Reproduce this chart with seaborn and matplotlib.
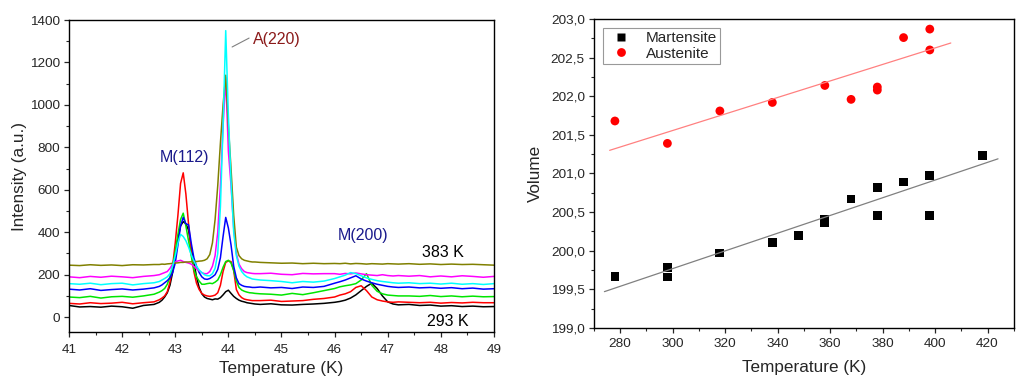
import numpy as np
import pandas as pd
import matplotlib
matplotlib.use("Agg")
import matplotlib.pyplot as plt
from matplotlib.ticker import MultipleLocator, FuncFormatter
import seaborn as sns

# ---------------- data: XRD-like spectra (left panel) ----------------
two_theta = [41.0, 41.2, 41.4, 41.6, 41.8, 42.0, 42.2, 42.4, 42.6,
             42.70, 42.75, 42.80, 42.85, 42.90, 42.95, 43.00, 43.05, 43.10, 43.15,
             43.20, 43.25, 43.30, 43.35, 43.40, 43.45, 43.50, 43.55, 43.60, 43.65,
             43.70, 43.75, 43.80, 43.85, 43.90, 43.95, 44.00, 44.05, 44.10, 44.15,
             44.20, 44.25, 44.30, 44.35, 44.40, 44.45, 44.50,
             44.6, 44.8, 45.0, 45.2, 45.4, 45.6, 45.8,
             46.0, 46.1, 46.2, 46.3, 46.4, 46.5, 46.6, 46.7, 46.8, 46.9, 47.0, 47.1, 47.2,
             47.4, 47.6, 47.8, 48.0, 48.2, 48.4, 48.6, 48.8, 49.0]

int_black = [55, 48, 50, 47, 52, 49, 42, 55, 60,
             70, 80, 95, 115, 150, 210, 290, 370, 430, 450,
             440, 410, 330, 260, 190, 140, 110, 95, 88, 85,
             82, 86, 85, 92, 105, 120, 127, 112, 98, 88,
             80, 75, 72, 68, 66, 64, 62,
             60, 63, 58, 57, 60, 62, 65,
             70, 74, 80, 90, 105, 125, 145, 160, 135, 100, 72, 62, 58,
             60, 55, 57, 52, 54, 50, 52, 49, 50]
int_red = [65, 62, 68, 64, 66, 70, 63, 68, 72,
           82, 90, 100, 120, 165, 240, 350, 480, 630, 680,
           580, 440, 310, 215, 160, 130, 112, 104, 100, 98,
           100, 104, 115, 150, 215, 258, 265, 262, 220, 130,
           105, 92, 85, 82, 80, 78, 78,
           78, 80, 74, 76, 78, 84, 88,
           95, 104, 110, 120, 140, 148, 125, 95, 82, 76, 72, 70, 72,
           70, 68, 70, 66, 69, 67, 70, 68, 68]
int_green = [95, 92, 98, 90, 96, 98, 94, 100, 108,
             118, 125, 135, 155, 190, 240, 310, 390, 460, 490,
             430, 360, 290, 225, 190, 170, 155, 155, 158, 160,
             158, 165, 175, 200, 235, 262, 268, 255, 220, 170,
             140, 128, 122, 118, 115, 114, 112,
             110, 108, 104, 112, 106, 115, 125,
             135, 143, 148, 152, 158, 175, 205, 150, 122, 110, 104, 102, 100,
             100, 98, 102, 97, 100, 96, 99, 96, 97]
int_blue = [132, 128, 134, 126, 130, 133, 128, 132, 138,
            145, 152, 162, 172, 185, 210, 255, 340, 430, 470,
            440, 435, 350, 280, 240, 210, 190, 180, 178, 182,
            190, 200, 225, 280, 380, 470, 420, 340, 240, 185,
            158, 150, 145, 143, 142, 140, 140,
            142, 138, 140, 135, 142, 140, 145,
            160, 167, 175, 185, 195, 180, 170, 162, 155, 150, 145, 142, 140,
            142, 138, 140, 136, 139, 134, 137, 132, 134]
int_cyan = [158, 155, 160, 153, 158, 160, 152, 158, 162,
            168, 175, 182, 190, 205, 240, 290, 350, 390, 380,
            360, 330, 295, 265, 240, 222, 210, 200, 195, 195,
            205, 230, 300, 520, 900, 1350, 950, 640, 400, 290,
            240, 215, 200, 190, 185, 180, 178,
            175, 172, 168, 162, 168, 165, 170,
            182, 190, 198, 210, 205, 195, 185, 178, 172, 168, 165, 162, 160,
            162, 158, 160, 156, 160, 155, 158, 154, 158]
int_magenta = [190, 186, 192, 188, 193, 190, 186, 192, 196,
               200, 205, 210, 215, 230, 250, 260, 265, 268, 262,
               258, 255, 250, 240, 228, 218, 210, 205, 205, 215,
               240, 290, 400, 620, 900, 1130, 780, 620, 420, 300,
               250, 228, 215, 210, 208, 206, 205,
               205, 207, 202, 200, 206, 204, 205,
               205, 202, 206, 204, 208, 204, 200, 198, 196, 200, 196, 194, 196,
               193, 196, 190, 194, 190, 195, 192, 188, 192]
int_olive = [245, 243, 247, 244, 246, 243, 247, 246, 248,
             248, 250, 249, 251, 252, 254, 255, 256, 258, 258,
             260, 260, 261, 262, 262, 264, 265, 268, 275, 295,
             350, 460, 620, 820, 1000, 1140, 900, 700, 480, 330,
             290, 275, 268, 265, 262, 260, 260,
             258, 256, 254, 255, 252, 254, 252,
             253, 252, 254, 251, 253, 252, 250, 252, 251, 250, 252, 251, 250,
             252, 249, 251, 248, 250, 248, 249, 247, 245]

curve_names = ["black", "red", "green", "blue", "magenta", "olive", "cyan"]
curve_values = [int_black, int_red, int_green, int_blue, int_magenta, int_olive, int_cyan]
curve_colors = {"black": "#000000", "red": "#ff0000", "green": "#00e600",
                "blue": "#0000ff", "magenta": "#ff00ff", "olive": "#808000",
                "cyan": "#00ffff"}

# ---------------- data: volume vs temperature (right panel) ----------------
mart_T = [278, 298, 298, 318, 338, 348, 358, 358, 368, 378, 378, 388, 398, 398, 418]
mart_V = [199.67, 199.78, 199.66, 199.97, 200.11, 200.20, 200.41, 200.37,
          200.67, 200.82, 200.46, 200.89, 200.97, 200.46, 201.23]
aust_T = [278, 298, 318, 338, 358, 368, 378, 378, 388, 398, 398]
aust_V = [201.68, 201.39, 201.81, 201.92, 202.14, 201.96, 202.12, 202.08,
          202.76, 202.87, 202.60]
mart_fit_T = [274, 424]
mart_fit_V = [199.47, 201.19]
aust_fit_T = [276, 406]
aust_fit_V = [201.30, 202.69]

# ---------------- style ----------------
sns.set_theme(style="ticks")
plt.rcParams["font.family"] = ["Liberation Sans", "DejaVu Sans"]
plt.rcParams["axes.linewidth"] = 1.0
plt.rcParams["xtick.direction"] = "out"
plt.rcParams["ytick.direction"] = "out"

TICK_FS = 9.7
LABEL_FS = 12.3
ANN_FS = 11.5

fig = plt.figure(figsize=(10.24, 3.89), dpi=100)
fig.patch.set_facecolor("white")
ax1 = fig.add_axes([0.0674, 0.1465, 0.415, 0.802])
ax2 = fig.add_axes([0.580, 0.157, 0.410, 0.794])

# left panel
rows = []
for name, vals in zip(curve_names, curve_values):
    for x, y in zip(two_theta, vals):
        rows.append((name, x, y))
spec = pd.DataFrame(rows, columns=["curve", "x", "y"])
sns.lineplot(data=spec, x="x", y="y", hue="curve", hue_order=curve_names,
             palette=curve_colors, estimator=None, linewidth=1.1,
             legend=False, ax=ax1)
ax1.set_xlim(41, 49)
ax1.set_ylim(-70, 1400)
ax1.xaxis.set_major_locator(MultipleLocator(1))
ax1.xaxis.set_minor_locator(MultipleLocator(0.5))
ax1.yaxis.set_major_locator(MultipleLocator(200))
ax1.yaxis.set_minor_locator(MultipleLocator(100))
ax1.set_xlabel("Temperature (K)", fontsize=LABEL_FS, labelpad=4)
ax1.set_ylabel("Intensity (a.u.)", fontsize=LABEL_FS, labelpad=2)
ax1.tick_params(which="major", length=3.5, width=0.9, labelsize=TICK_FS, pad=3)
ax1.tick_params(axis="x", which="major", pad=5)
ax1.tick_params(which="minor", length=2, width=0.8)
ax1.text(44.47, 1306, "A(220)", color="#8b1a1a", fontsize=ANN_FS, ha="left", va="center")
ax1.plot([44.07, 44.39], [1273, 1315], color="#808080", lw=0.8)
ax1.text(43.17, 754, "M(112)", color="#1a1a8c", fontsize=ANN_FS, ha="center", va="center")
ax1.text(46.54, 383, "M(200)", color="#1a1a8c", fontsize=ANN_FS, ha="center", va="center")
ax1.text(48.03, 305, "383 K", color="black", fontsize=ANN_FS, ha="center", va="center")
ax1.text(48.14, -19, "293 K", color="black", fontsize=ANN_FS, ha="center", va="center")

# right panel
vol = pd.DataFrame({
    "T": mart_T + aust_T,
    "V": mart_V + aust_V,
    "phase": ["Martensite"] * len(mart_T) + ["Austenite"] * len(aust_T),
})
sns.lineplot(x=mart_fit_T, y=mart_fit_V, color="#808080", linewidth=0.9, ax=ax2)
sns.lineplot(x=aust_fit_T, y=aust_fit_V, color="#ff8080", linewidth=0.9, ax=ax2)
sns.scatterplot(data=vol, x="T", y="V", hue="phase", style="phase",
                hue_order=["Martensite", "Austenite"],
                style_order=["Martensite", "Austenite"],
                palette={"Martensite": "black", "Austenite": "#ff0000"},
                markers={"Martensite": "s", "Austenite": "o"},
                s=40, edgecolor="none", ax=ax2)
ax2.set_xlim(270, 430)
ax2.set_ylim(199.0, 203.0)
ax2.xaxis.set_major_locator(MultipleLocator(20))
ax2.xaxis.set_minor_locator(MultipleLocator(10))
ax2.yaxis.set_major_locator(MultipleLocator(0.5))
ax2.yaxis.set_minor_locator(MultipleLocator(0.25))
ax2.yaxis.set_major_formatter(FuncFormatter(lambda v, p: f"{v:.1f}".replace(".", ",")))
ax2.set_xlabel("Temperature (K)", fontsize=LABEL_FS, labelpad=7)
ax2.set_ylabel("Volume", fontsize=LABEL_FS, labelpad=6)
ax2.tick_params(which="major", length=3.5, width=0.9, labelsize=TICK_FS, pad=3)
ax2.tick_params(axis="x", which="major", pad=4)
ax2.tick_params(which="minor", length=2, width=0.8)
leg = ax2.legend(loc="upper left", fontsize=11, frameon=True, fancybox=False,
                 edgecolor="#808080", borderpad=0.2, handletextpad=0.6,
                 labelspacing=0.1, borderaxespad=0.6, handlelength=2.0)
leg.get_frame().set_linewidth(0.8)

for ax in (ax1, ax2):
    for s in ax.spines.values():
        s.set_visible(True)
        s.set_color("black")

fig.savefig("out.png", dpi=100, facecolor="white")
